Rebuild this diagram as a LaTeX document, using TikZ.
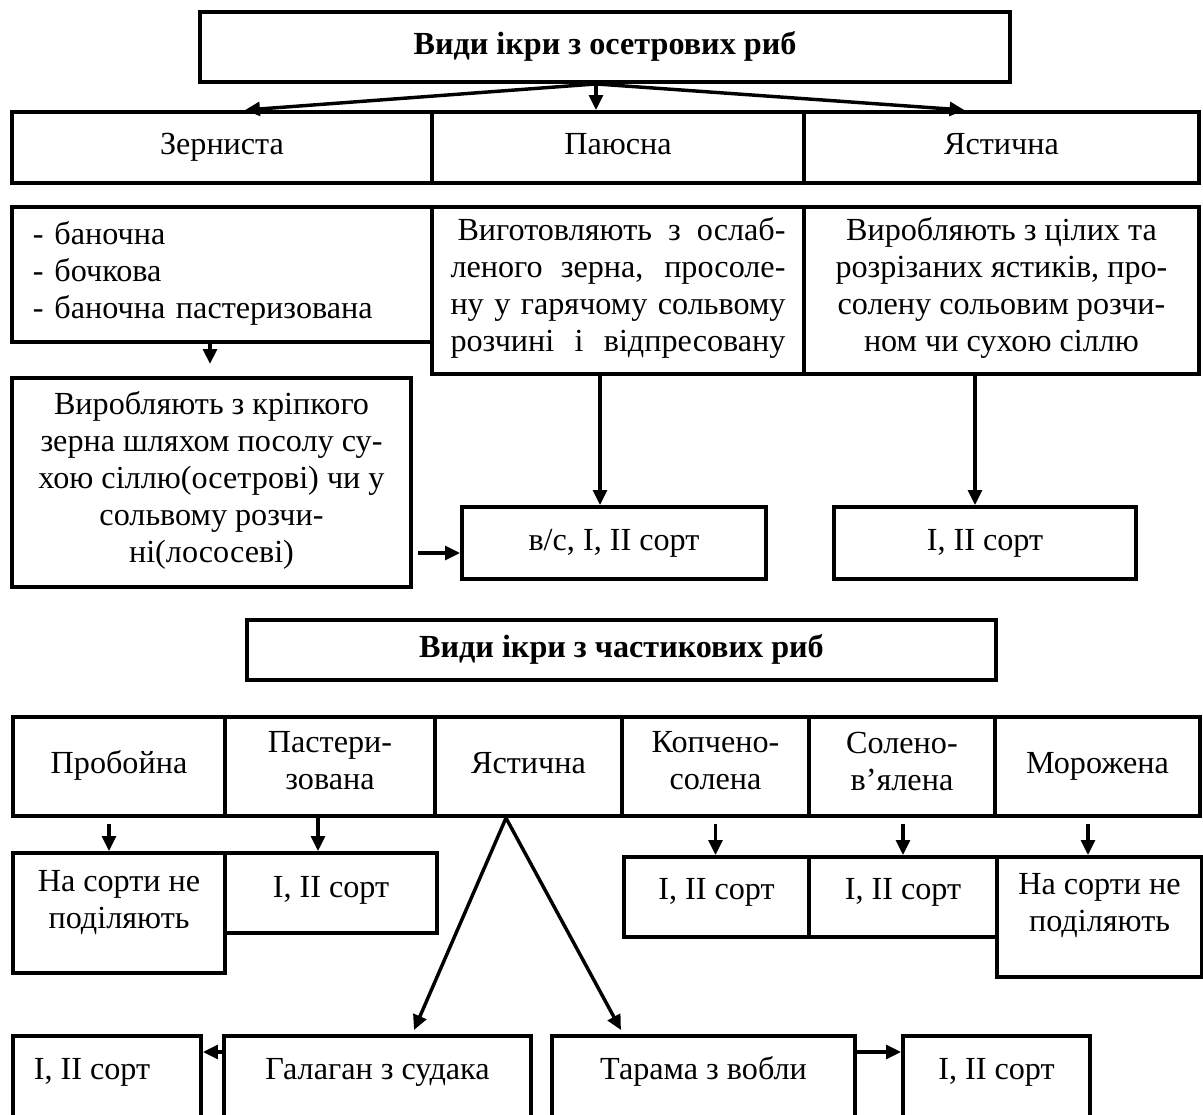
\documentclass[tikz,border=0pt]{standalone}
\usepackage{fontspec}
\setmainfont{Liberation Serif}
\usetikzlibrary{arrows.meta,calc}
\newlength\px \setlength\px{0.435pt}
\newcommand\jline[1]{\makebox[335\px][s]{#1}}
\begin{document}
\begin{tikzpicture}[x=0.435pt,y=-0.435pt,
  font=\fontsize{14pt}{16.1pt}\selectfont,
  box/.style={draw, line width=1.7pt, rectangle, inner sep=0pt, align=center,
    execute at begin node=\strut, execute at end node=\strut},
  txt/.style={inner sep=0pt, align=center,
    execute at begin node=\strut, execute at end node=\strut},
  arr/.style={line width=1.5pt, -{Triangle[length=6.5pt,width=6pt]}},
  ln/.style={line width=1.5pt}]
\useasboundingbox (0,0) rectangle (1203,1115);
\clip (0,0) rectangle (1203,1115);

% ---------- top part ----------
\node[box, minimum width=810\px, minimum height=70\px] (t1) at (605,47) {\bfseries Види ікри з осетрових риб};

\node[box, minimum width=420\px, minimum height=71\px] (z) at (222,147.5) {Зерниста};
\node[box, minimum width=372\px, minimum height=71\px] (p) at (618,147.5) {Паюсна};
\node[box, minimum width=395\px, minimum height=71\px] (ya) at (1001.5,147.5) {Ястична};

\coordinate (o1) at ([xshift=-9\px]t1.south);
\draw[arr] (o1) -- ([xshift=23\px]z.north);
\draw[arr] (o1) -- (o1 |- p.north);
\draw[arr] (o1) -- ([xshift=-37\px]ya.north);

\node[box, minimum width=420\px, minimum height=135\px, text width=378\px, align=left] (bl) at (222,274.5)
  {- баночна\\- бочкова\\- баночна пастеризована};
\node[box, minimum width=372\px, minimum height=167\px] (bm) at (618,290.5)
  {\jline{\hspace*{7\px}Виготовляють з ослаб-}\\\jline{леного зерна, просоле-}\\\jline{ну у гарячому сольвому}\\\jline{розчині і відпресовану}};
\node[box, minimum width=395\px, minimum height=167\px] (br) at (1001.5,290.5)
  {Виробляють з цілих та\\розрізаних ястиків, про-\\солену сольовим розчи-\\ном чи сухою сіллю};

\node[box, minimum width=399\px, minimum height=209\px] (lb2) at (211.5,482.5)
  {Виробляють з кріпкого\\зерна шляхом посолу су-\\хою сіллю(осетрові) чи у\\сольвому розчи-\\ні(лососеві)};
\node[box, minimum width=304\px, minimum height=72\px] (vs) at (614,543) {в/с, I, II сорт};
\node[box, minimum width=302\px, minimum height=72\px] (ii1) at (985,543) {I, II сорт};

\coordinate (s0) at ([xshift=-12\px]bl.south);
\draw[arr] (s0) -- ++(0,20);
\coordinate (c1) at (418,553);
\draw[arr] (c1) -- (c1 -| vs.west);
\coordinate (s1) at ([xshift=-18\px]bm.south);
\draw[arr] (s1) -- (s1 |- vs.north);
\coordinate (s2) at ([xshift=-26.5\px]br.south);
\draw[arr] (s2) -- (s2 |- ii1.north);

% ---------- bottom part ----------
\node[box, minimum width=749\px, minimum height=60\px] (t2) at (621.5,650) {\bfseries Види ікри з частикових риб};

\node[box, minimum width=212\px, minimum height=99\px] (b1) at (119,766.5) {Пробойна};
\node[box, minimum width=210\px, minimum height=99\px] (b2) at (330,766.5) {Пастери-\\зована};
\node[box, minimum width=187\px, minimum height=99\px] (b3) at (528.5,766.5) {Ястична};
\node[box, minimum width=187\px, minimum height=99\px] (b4) at (715.5,766.5) {Копчено-\\солена};
\node[box, minimum width=186\px, minimum height=99\px] (b5) at (902,766.5) {Солено-\\в’ялена};
\node[box, minimum width=205\px, minimum height=99\px] (b6) at (1097.5,766.5) {Морожена};

\node[box, minimum width=212\px, minimum height=120\px] (c1b) at (119,913) {};
\node[txt] (c1t) at (119,905) {На сорти не\\поділяють};
\node[box, minimum width=212\px, minimum height=80\px] (c2b) at (331,893) {};
\node[txt] (c2t) at (331,890) {I, II сорт};
\node[box, minimum width=185\px, minimum height=80\px] (c3b) at (716.5,897) {};
\node[txt] (c3t) at (716.5,892) {I, II сорт};
\node[box, minimum width=188\px, minimum height=80\px] (c4b) at (903,897) {};
\node[txt] (c4t) at (903,892) {I, II сорт};
\node[box, minimum width=205\px, minimum height=120\px] (c5b) at (1099.5,917) {};
\node[txt] (c5t) at (1099.5,908) {На сорти не\\поділяють};

\coordinate (s3) at ([xshift=-10\px,yshift=-6\px]b1.south);
\draw[arr] (s3) -- (s3 |- c1b.north);
\coordinate (s4) at ([xshift=-12\px]b2.south);
\draw[arr] (s4) -- (s4 |- c2b.north);
\coordinate (s5) at ([yshift=-6\px]b4.south);
\draw[arr] (s5) -- (s5 |- c3b.north);
\coordinate (s6) at ([xshift=1\px,yshift=-6\px]b5.south);
\draw[arr] (s6) -- (s6 |- c4b.north);
\coordinate (s7) at ([xshift=-9.5\px,yshift=-6\px]b6.south);
\draw[arr] (s7) -- (s7 |- c5b.north);

\node[box, minimum width=188\px, minimum height=94\px] (d1) at (107,1083) {};
\node[txt] (d1t) at (92,1072) {I, II сорт};
\node[box, minimum width=307\px, minimum height=94\px] (d2) at (377.5,1083) {};
\node[txt] (d2t) at (377.5,1072) {Галаган з судака};
\node[box, minimum width=303\px, minimum height=94\px] (d3) at (703.5,1083) {};
\node[txt] (d3t) at (703.5,1072) {Тарама з вобли};
\node[box, minimum width=187\px, minimum height=94\px] (d4) at (996.5,1083) {};
\node[txt] (d4t) at (996.5,1072) {I, II сорт};

\coordinate (ap) at ([xshift=-22.5\px]b3.south);
\draw[arr] (ap) -- ([xshift=36.5\px,yshift=4\px]d2.north);
\draw[arr] (ap) -- ([xshift=-82.5\px,yshift=4\px]d3.north);

\coordinate (s8) at ([yshift=31\px]d2.west);
\draw[arr] (s8) -- (s8 -| d1.east);
\coordinate (s9) at ([yshift=31\px]d3.east);
\draw[arr] (s9) -- (s9 -| d4.west);
\end{tikzpicture}
\end{document}
